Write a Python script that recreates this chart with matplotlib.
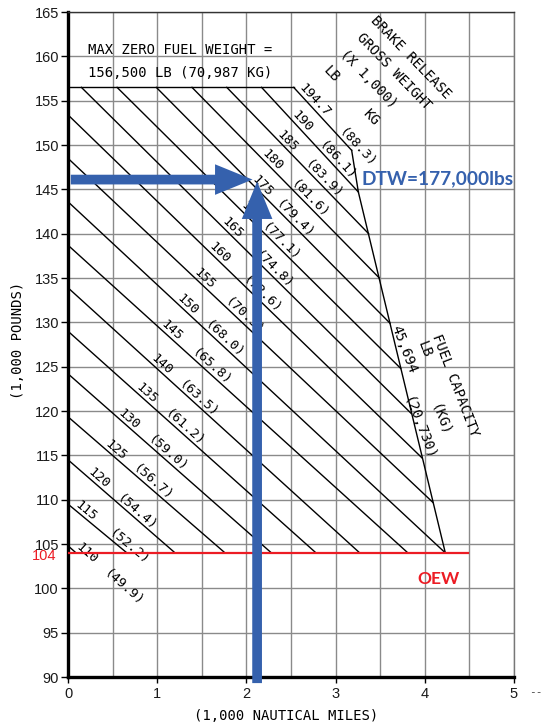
import numpy as np
import matplotlib.pyplot as plt
from matplotlib.patches import FancyArrowPatch

# brake release gross weight lines, (x 1,000) lb and kg
gross_lb = ['110', '115', '120', '125', '130', '135', '140', '145', '150',
            '155', '160', '165', '170', '175', '180', '185', '190', '194.7']
gross_kg = ['(49.9)', '(52.2)', '(54.4)', '(56.7)', '(59.0)', '(61.2)',
            '(63.5)', '(65.8)', '(68.0)', '(70.3)', '(72.6)', '(74.8)',
            '(77.1)', '(79.4)', '(81.6)', '(83.9)', '(86.1)', '(88.3)']

# each line: start and end, range (1,000 nm) vs zero fuel weight (1,000 lb)
start_range = [0, 0, 0, 0, 0, 0, 0, 0, 0, 0, 0,
               0.15, 0.55, 0.99, 1.39, 1.78, 2.17, 2.53]
start_weight = [104.8, 109.5, 114.5, 119.35, 124.2, 129.0, 133.9, 138.7, 143.6,
                148.5, 153.4, 156.5, 156.5, 156.5, 156.5, 156.5, 156.5, 156.5]
end_range = [0.09, 0.66, 1.20, 1.76, 2.28, 2.78, 3.27, 3.81, 4.23,
             4.09, 3.97, 3.85, 3.73, 3.61, 3.49, 3.37, 3.255, 3.18]
end_weight = [104.0, 104.0, 104.0, 104.0, 104.0, 104.0, 104.0, 104.0, 104.0,
              109.7, 114.7, 119.7, 124.8, 129.9, 135.0, 140.0, 144.7, 149.4]

# fuel capacity limit
fuel_range = [3.18, 3.255, 4.23]
fuel_weight = [149.4, 144.7, 104.0]

mzfw = 156.5          # max zero fuel weight
oew = 104.0           # operating empty weight
oew_line_end = 4.48

# design point
dtw_range = 2.12
dtw_zfw = 146.1

# where the lb / kg labels sit along each line (range)
lb_label_x = [0.16, 0.16, 0.30, 0.49, 0.64, 0.84, 1.00, 1.11, 1.29,
              1.48, 1.65, 1.79, 2.01, 2.13, 2.24, 2.41, 2.57, 2.71]
kg_label_x = [0.58, 0.64, 0.73, 0.90, 1.07, 1.26, 1.42, 1.56, 1.70,
              1.93, 2.13, 2.26, 2.34, 2.49, 2.66, 2.82, 2.97, 3.19]

MONO = ['DejaVu Sans Mono']
BLUE = '#3561ad'
RED = '#ec1c24'

fig = plt.figure(figsize=(5.43, 7.27), dpi=100)
ax = fig.add_axes([68 / 543, 1 - 677 / 727, 446 / 543, 665 / 727])
ax.set_xlim(0, 5)
ax.set_ylim(90, 165)

ax.set_xticks(np.arange(0, 6, 1))
ax.set_xticks(np.arange(0.5, 5, 1), minor=True)
ax.set_yticks(np.arange(90, 170, 5))
ax.grid(True, which='both', color='#8a8a8a', lw=1.0, zorder=0)
ax.tick_params(which='minor', length=0)
ax.tick_params(axis='y', length=5, width=1, pad=1.5, labelsize=10.5)
ax.tick_params(axis='x', length=4, width=1, pad=3, labelsize=10.5)
for lab in ax.get_xticklabels() + ax.get_yticklabels():
    lab.set_family(['Liberation Sans', 'DejaVu Sans'])
    lab.set_color('#1a1a1a')

for side in ['left', 'bottom']:
    ax.spines[side].set_linewidth(2.4)
    ax.spines[side].set_color('black')
ax.spines['top'].set_linewidth(1.0)
ax.spines['top'].set_color('#333333')
ax.spines['right'].set_linewidth(1.0)
ax.spines['right'].set_color('#777777')

# gross weight lines
for xs, ys, xe, ye in zip(start_range, start_weight, end_range, end_weight):
    ax.plot([xs, xe], [ys, ye], color='black', lw=1.0, zorder=2)

# envelope: MZFW cap and fuel capacity limit
ax.plot([0, start_range[-1]], [mzfw, mzfw], color='black', lw=1.0, zorder=2)
ax.plot(fuel_range, fuel_weight, color='black', lw=1.0, zorder=2)

# line labels, rotated to follow each line
for i in range(len(gross_lb)):
    slope = (end_weight[i] - start_weight[i]) / (end_range[i] - start_range[i])
    for txt, xl, off in [(gross_lb[i], lb_label_x[i], 4.5),
                         (gross_kg[i], kg_label_x[i], 4.0)]:
        yl = start_weight[i] + slope * (xl - start_range[i])
        ang = ax.transData.transform_angles(
            np.array([np.degrees(np.arctan2(slope, 1))]),
            np.array([[xl, yl]]))[0]
        t = np.radians(ang)
        ax.annotate(txt, xy=(xl, yl),
                    xytext=(-off * np.sin(t), off * np.cos(t)),
                    textcoords='offset points', rotation=ang,
                    rotation_mode='anchor', ha='center', va='center',
                    family=MONO, fontsize=9.5, zorder=3)

# header texts
ax.text(0.22, 160.7, 'MAX ZERO FUEL WEIGHT =', family=MONO, fontsize=10,
        ha='left', va='center')
ax.text(0.22, 158.1, '156,500 LB (70,987 KG)', family=MONO, fontsize=10,
        ha='left', va='center')

for txt, x, y in [('BRAKE RELEASE', 3.845, 159.9), ('GROSS WEIGHT', 3.655, 158.3),
                  ('(X 1,000)', 3.374, 157.4), ('LB', 2.95, 158.0),
                  ('KG', 3.40, 153.1)]:
    ax.text(x, y, txt, rotation=-46, rotation_mode='anchor', ha='center',
            va='center', family=MONO, fontsize=10)

for txt, x, y in [('45,694', 3.77, 127.0), ('LB', 3.99, 127.0),
                  ('FUEL CAPACITY', 4.34, 122.9), ('(KG)', 4.17, 119.0),
                  ('(20,730)', 3.93, 118.1)]:
    ax.text(x, y, txt, rotation=-69, rotation_mode='anchor', ha='center',
            va='center', family=MONO, fontsize=10)

# OEW line and labels
ax.plot([0, oew_line_end], [oew, oew], color=RED, lw=1.6, zorder=4)
ax.text(4.15, 101.0, 'OEW', color=RED, fontweight='bold', fontsize=12.5,
        family=['Lato', 'DejaVu Sans'], ha='center', va='center')
ax.text(-0.025, oew - 0.4, '104', transform=ax.get_yaxis_transform(),
        color=RED, fontsize=10.5, family=['Liberation Sans', 'DejaVu Sans'],
        ha='right', va='center')

# design range arrows
arrow_kw = dict(arrowstyle='simple,head_length=27,head_width=22,tail_width=7',
                mutation_scale=1, color=BLUE, lw=0, zorder=6)
ax.add_patch(FancyArrowPatch((0, dtw_zfw), (dtw_range - 0.02, dtw_zfw),
                             **arrow_kw))
ax.add_patch(FancyArrowPatch((dtw_range, 89.0), (dtw_range, dtw_zfw + 0.1),
                             clip_on=False, **arrow_kw))
ax.text(3.285, 146.2, 'DTW=177,000lbs', color=BLUE, fontweight='bold',
        fontsize=13.8, family=['Lato', 'DejaVu Sans'], ha='left', va='center')

# axis titles
fig.text(18 / 543, 1 - 340 / 727, '(1,000 POUNDS)', rotation=90,
         family=MONO, fontsize=10, ha='center', va='center')
fig.text(286 / 543, 1 - 716 / 727, '(1,000 NAUTICAL MILES)',
         family=MONO, fontsize=10, ha='center', va='center')
fig.text(529 / 543, 1 - 692 / 727, '--', family=MONO, fontsize=8,
         ha='left', va='center', color='#444444')

fig.savefig('out.png', dpi=100)
